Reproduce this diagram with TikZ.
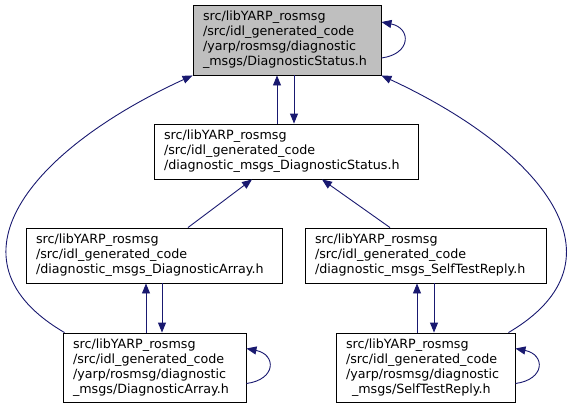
\documentclass[tikz,border=0pt]{standalone}
\usepackage{fontspec}
\setmainfont{DejaVu Sans}
\usetikzlibrary{arrows.meta}
\definecolor{edgeblue}{HTML}{191970}
\definecolor{curgray}{HTML}{BFBFBF}
\tikzset{
  file/.style    = {draw=black, line width=0.9pt, align=left, inner xsep=10pt,
                    inner ysep=0pt, font=\fontsize{12.7}{15}\selectfont},
  current/.style = {file, fill=curgray},
  dep/.style     = {-{Triangle[length=10pt,width=8pt]}, draw=edgeblue, line width=0.9pt}
}

\begin{document}
\begin{tikzpicture}[x=1pt, y=-1pt]
\useasboundingbox (0,0) rectangle (572,408);

\node[current, text width=168pt, minimum height=70pt] at (287  , 40   ) (top)
      {src/libYARP\_rosmsg\\/src/idl\_generated\_code\\/yarp/rosmsg/diagnostic\\\_msgs/DiagnosticStatus.h};
\node[file, text width=244pt, minimum height=55pt]    at (286  ,151.5 ) (mid)
      {src/libYARP\_rosmsg\\/src/idl\_generated\_code\\/diagnostic\_msgs\_DiagnosticStatus.h};
\node[file, text width=236pt, minimum height=55pt]    at (154  ,255.5 ) (arr)
      {src/libYARP\_rosmsg\\/src/idl\_generated\_code\\/diagnostic\_msgs\_DiagnosticArray.h};
\node[file, text width=221pt, minimum height=55pt]    at (425.5,255.5 ) (stp)
      {src/libYARP\_rosmsg\\/src/idl\_generated\_code\\/diagnostic\_msgs\_SelfTestReply.h};
\node[file, text width=163pt, minimum height=69pt]    at (154.5,367.5 ) (barr)
      {src/libYARP\_rosmsg\\/src/idl\_generated\_code\\/yarp/rosmsg/diagnostic\\\_msgs/DiagnosticArray.h};
\node[file, text width=159pt, minimum height=69pt]    at (425.5,367.5 ) (bstp)
      {src/libYARP\_rosmsg\\/src/idl\_generated\_code\\/yarp/rosmsg/diagnostic\\\hspace*{6pt}\_msgs/SelfTestReply.h};

% top level
\draw[dep] ([yshift=-18pt]top.east) .. controls +(30,-4) and +(30,6) .. ([yshift=18pt]top.east);
\draw[dep] ([xshift=-9pt]mid.north) -- ([xshift=-10pt]top.south);
\draw[dep] ([xshift=7pt]top.south) -- ([xshift=8pt]mid.north);
\draw[dep] ([xshift=2pt]barr.north west) .. controls (-60,260) and (30,150) .. (top.south west);
\draw[dep] ([xshift=-7pt]bstp.north east) .. controls (632,260) and (542,150) .. (top.south east);

% middle
\draw[dep] ([xshift=34pt]arr.north) -- ([xshift=-34pt]mid.south);
\draw[dep] ([xshift=-35.5pt]stp.north) -- ([xshift=36pt]mid.south);

% bottom
\draw[dep] ([xshift=-8.5pt]barr.north) -- ([xshift=-8pt]arr.south);
\draw[dep] ([xshift=8pt]arr.south) -- ([xshift=7.5pt]barr.north);
\draw[dep] ([xshift=-8.5pt]bstp.north) -- ([xshift=-8.5pt]stp.south);
\draw[dep] ([xshift=8.5pt]stp.south) -- ([xshift=8.5pt]bstp.north);
\draw[dep] ([yshift=-16pt]barr.east) .. controls +(30,-4) and +(30,6) .. ([yshift=19pt]barr.east);
\draw[dep] ([yshift=-16pt]bstp.east) .. controls +(30,-4) and +(30,6) .. ([yshift=19pt]bstp.east);
\end{tikzpicture}
\end{document}
